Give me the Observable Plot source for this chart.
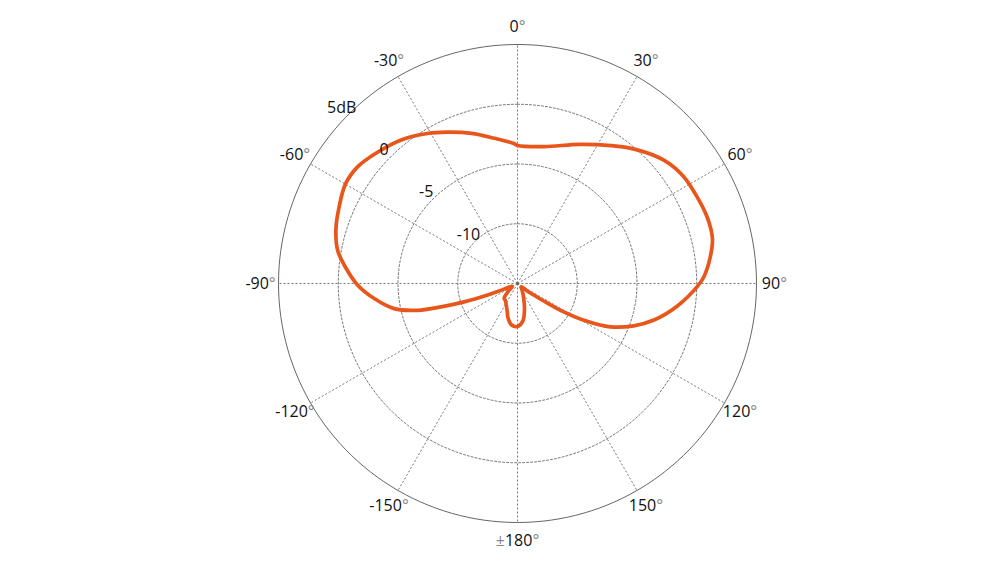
<!DOCTYPE html>
<html>
<head>
<meta charset="utf-8">
<script src="https://cdn.jsdelivr.net/npm/d3@7"></script>
<script src="https://cdn.jsdelivr.net/npm/@observablehq/plot@0.6"></script>
<style>
  html, body { margin: 0; padding: 0; background: #fff; }
</style>
</head>
<body>
<div id="chart"></div>
<script>
// Polar response: angle in degrees (0 at top, clockwise), level in dB
const angles = [0, 11, 24, 34, 41, 50, 57, 64, 71, 77, 82, 88, 91, 98, 105, 110, 115, 119, 122, 124, 127, 132,
  145, 155, 165, 172, 180, -172, -164, -160, -152, -145, -138, -130, -120, -112, -111, -109, -107, -105,
  -101.5, -96, -90.5, -85, -79.5, -73.5, -67, -60, -54, -47, -39, -31, -25, -17, -9, -1.5];
const gains = [-3.45, -3.33, -2.26, -1.08, -0.10, 1.03, 1.52, 1.68, 1.82, 1.74, 1.30, 0.60, 0.04, -1.49, -3.18, -4.65, -6.41, -8.65, -10.75, -12.49, -13.74, -14.58,
  -14.33, -13.83, -12.74, -11.82, -11.40, -11.49, -12.07, -12.49, -12.99, -13.24, -13.33, -14.0, -14.5, -13.33, -12.32, -10.27, -8.31, -6.34,
  -4.46, -2.95, -1.61, -0.61, 0.31, 0.85, 1.23, 1.63, 1.57, 1.07, 0.46, -0.36, -1.03, -1.86, -2.70, -3.28];

const minDb = -15;
const maxDb = 5;
const ringLevels = [-10, -5, 0];
const ringLabelLevels = [-10, -5, 0, 5];
const ringLabels = ["-10", "-5", "0", "5dB"];
const spokeAngles = [0, 30, 60, 90, 120, 150, 180, -150, -120, -90, -60, -30];
const spokeLabels = ["0°", "30°", "60°", "90°", "120°", "150°", "±180°", "-150°", "-120°", "-90°", "-60°", "-30°"];

const rad = a => a * Math.PI / 180;
const rho = db => db - minDb;
const X = (a, r) => r * Math.sin(rad(a));
const Y = (a, r) => r * Math.cos(rad(a));
const R = maxDb - minDb;

const curve = angles.map((a, i) => ({a, db: gains[i]}));
const circleSteps = d3.range(0, 361, 2);
const rings = ringLevels.flatMap(l => circleSteps.map(a => ({l, a})));
const outer = circleSteps.map(a => ({a}));
const spokes = spokeAngles.map(a => ({a}));
const ringText = ringLabelLevels.map((l, i) => ({l, t: ringLabels[i]}));
const angleText = spokeAngles.map((a, i) => ({a, t: spokeLabels[i]}));

const chart = Plot.plot({
  width: 999,
  height: 587,
  marginLeft: 278,
  marginRight: 243,
  marginTop: 44,
  marginBottom: 65,
  x: {domain: [-R, R], axis: null},
  y: {domain: [-R, R], axis: null},
  style: {fontFamily: "'Open Sans', sans-serif", fontSize: "16px", background: "#fff", overflow: "visible"},
  marks: [
    Plot.line(rings, {x: d => X(d.a, rho(d.l)), y: d => Y(d.a, rho(d.l)), z: "l",
      stroke: "#555", strokeWidth: 0.8, strokeDasharray: "2,2"}),
    Plot.link(spokes, {x1: 0, y1: 0, x2: d => X(d.a, R), y2: d => Y(d.a, R),
      stroke: "#555", strokeWidth: 0.8, strokeDasharray: "2,2"}),
    Plot.line(outer, {x: d => X(d.a, R), y: d => Y(d.a, R), stroke: "#555", strokeWidth: 0.9}),
    Plot.line(curve, {x: d => X(d.a, rho(d.db)), y: d => Y(d.a, rho(d.db)),
      stroke: "#E8561B", strokeWidth: 3.7, curve: "catmull-rom-closed", strokeLinejoin: "round"}),
    Plot.text(ringText, {x: d => X(-45, rho(d.l) + 0.8), y: d => Y(-45, rho(d.l) + 0.8), text: "t",
      fill: "#111", fontSize: 16, textAnchor: "middle"}),
    Plot.text(angleText, {x: d => X(d.a, 21.5), y: d => Y(d.a, 21.5), text: "t",
      fill: "#111", fontSize: 16, textAnchor: "middle"})
  ]
});
// lighter degree and plus-minus glyphs, as in the reference
d3.select(chart).selectAll("text").each(function () {
  const s = this.textContent;
  if (!/[°±]/.test(s)) return;
  const el = d3.select(this);
  el.text(null);
  for (const ch of s.match(/[°±]|[^°±]+/g)) {
    el.append("tspan").attr("fill", /[°±]/.test(ch) ? "#888" : null).text(ch);
  }
});
document.getElementById("chart").appendChild(chart);
</script>
</body>
</html>
